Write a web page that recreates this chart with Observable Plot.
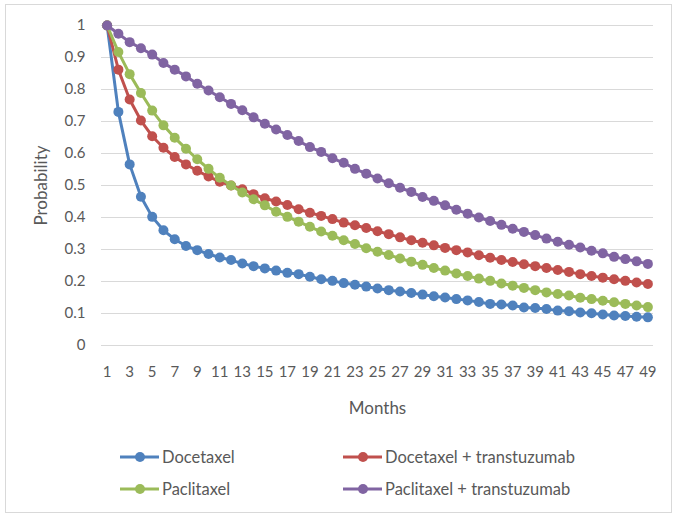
<!DOCTYPE html>
<html>
<head>
<meta charset="utf-8">
<script src="https://cdn.jsdelivr.net/npm/d3@7"></script>
<script src="https://cdn.jsdelivr.net/npm/@observablehq/plot@0.6"></script>
<style>
  html, body { margin: 0; padding: 0; background: #fff; }
  #wrap { position: relative; width: 681px; height: 519px; font-family: Lato, "Open Sans", sans-serif; color: #595959; }
  #frame { position: absolute; left: 5px; top: 4px; width: 667px; height: 509px; border: 1px solid #D9D9D9; box-sizing: border-box; }
  #chart { position: absolute; left: 0; top: 0; }
  .leg { position: absolute; display: flex; align-items: center; font-size: 16.5px; color: #595959; white-space: nowrap; }
  .leg svg { margin-right: 3px; }
</style>
</head>
<body>
<div id="wrap">
  <div id="frame"></div>
  <div id="chart"></div>
  <div id="legend"></div>
</div>
<script>
const months = [1,2,3,4,5,6,7,8,9,10,11,12,13,14,15,16,17,18,19,20,21,22,23,24,25,26,27,28,29,30,31,32,33,34,35,36,37,38,39,40,41,42,43,44,45,46,47,48,49];
const xTickLabels = [1,3,5,7,9,11,13,15,17,19,21,23,25,27,29,31,33,35,37,39,41,43,45,47,49];
const yTickLabels = [0,0.1,0.2,0.3,0.4,0.5,0.6,0.7,0.8,0.9,1];
const seriesNames = ["Docetaxel", "Docetaxel + transtuzumab", "Paclitaxel", "Paclitaxel + transtuzumab"];
const seriesColors = ["#4F81BD", "#C0504D", "#9BBB59", "#8064A2"];

const docetaxel = [1,0.73,0.566,0.465,0.402,0.36,0.332,0.311,0.298,0.286,0.275,0.267,0.256,0.248,0.241,0.234,0.227,0.223,0.215,0.207,0.202,0.195,0.19,0.184,0.178,0.173,0.169,0.164,0.159,0.154,0.15,0.145,0.141,0.136,0.13,0.128,0.125,0.119,0.117,0.114,0.109,0.107,0.103,0.101,0.097,0.094,0.092,0.09,0.088];
const docetaxelTrastuzumab = [1,0.862,0.769,0.703,0.654,0.618,0.589,0.566,0.546,0.528,0.512,0.5,0.488,0.473,0.46,0.45,0.439,0.426,0.415,0.405,0.395,0.384,0.376,0.367,0.357,0.348,0.338,0.329,0.321,0.313,0.305,0.298,0.291,0.282,0.274,0.267,0.261,0.254,0.248,0.242,0.236,0.23,0.223,0.217,0.212,0.207,0.202,0.197,0.192];
const paclitaxel = [1,0.917,0.848,0.789,0.734,0.688,0.649,0.615,0.582,0.552,0.524,0.5,0.478,0.457,0.438,0.418,0.402,0.387,0.371,0.356,0.343,0.329,0.317,0.304,0.293,0.283,0.272,0.262,0.252,0.242,0.234,0.225,0.217,0.209,0.202,0.194,0.187,0.18,0.173,0.166,0.161,0.156,0.149,0.145,0.14,0.135,0.13,0.125,0.12];
const paclitaxelTrastuzumab = [1,0.974,0.948,0.929,0.909,0.883,0.862,0.841,0.818,0.797,0.776,0.755,0.735,0.713,0.693,0.675,0.658,0.639,0.62,0.605,0.585,0.571,0.552,0.537,0.522,0.507,0.493,0.48,0.464,0.452,0.438,0.424,0.412,0.4,0.389,0.377,0.365,0.355,0.345,0.334,0.324,0.315,0.306,0.296,0.288,0.277,0.27,0.263,0.255];

const seriesValues = [docetaxel, docetaxelTrastuzumab, paclitaxel, paclitaxelTrastuzumab];
const data = [];
seriesNames.forEach((name, i) => {
  months.forEach((m, j) => data.push({series: name, month: m, value: seriesValues[i][j]}));
});

const color = {domain: seriesNames, range: seriesColors};

const plot = Plot.plot({
  width: 681,
  height: 430,
  marginLeft: 101,
  marginRight: 28,
  marginTop: 25,
  marginBottom: 85,
  style: {fontFamily: "Lato, 'Open Sans', sans-serif", fontSize: "15px", color: "#595959", background: "transparent"},
  x: {domain: [0.5, 49.5], label: null},
  y: {domain: [0, 1], label: null},
  color,
  marks: [
    Plot.ruleY(yTickLabels, {stroke: "#D9D9D9", strokeWidth: 1}),
    Plot.axisY({ticks: yTickLabels, tickSize: 0, tickPadding: 16, label: null, tickFormat: d => String(d), fill: "#595959"}),
    Plot.axisX({ticks: xTickLabels, tickSize: 0, tickPadding: 21, label: null, tickFormat: d => String(d), fill: "#595959"}),
    Plot.text(["Months"], {frameAnchor: "bottom", lineAnchor: "middle", textAnchor: "middle", dy: 63, fontSize: 17, fill: "#595959"}),
    Plot.text(["Probability"], {frameAnchor: "left", lineAnchor: "middle", textAnchor: "middle", dx: -60, rotate: -90, fontSize: 17, fill: "#595959"}),
    ...seriesNames.flatMap(name => [
      Plot.line(data.filter(d => d.series === name), {x: "month", y: "value", stroke: "series", strokeWidth: 3}),
      Plot.dot(data.filter(d => d.series === name), {x: "month", y: "value", fill: "series", r: 5, stroke: "none"})
    ])
  ]
});
document.getElementById("chart").appendChild(plot);

// Legend (HTML, below the plot)
const legendPos = [
  {left: 120, top: 457},
  {left: 343, top: 457},
  {left: 120, top: 489},
  {left: 343, top: 489}
];
const legend = document.getElementById("legend");
seriesNames.forEach((name, i) => {
  const div = document.createElement("div");
  div.className = "leg";
  div.style.left = legendPos[i].left + "px";
  div.style.top = (legendPos[i].top - 10) + "px";
  div.style.height = "20px";
  div.innerHTML = `<svg width="39" height="14"><line x1="0" x2="39" y1="7" y2="7" stroke="${seriesColors[i]}" stroke-width="3"/><circle cx="20" cy="7" r="5" fill="${seriesColors[i]}"/></svg><span>${name}</span>`;
  legend.appendChild(div);
});
</script>
</body>
</html>
